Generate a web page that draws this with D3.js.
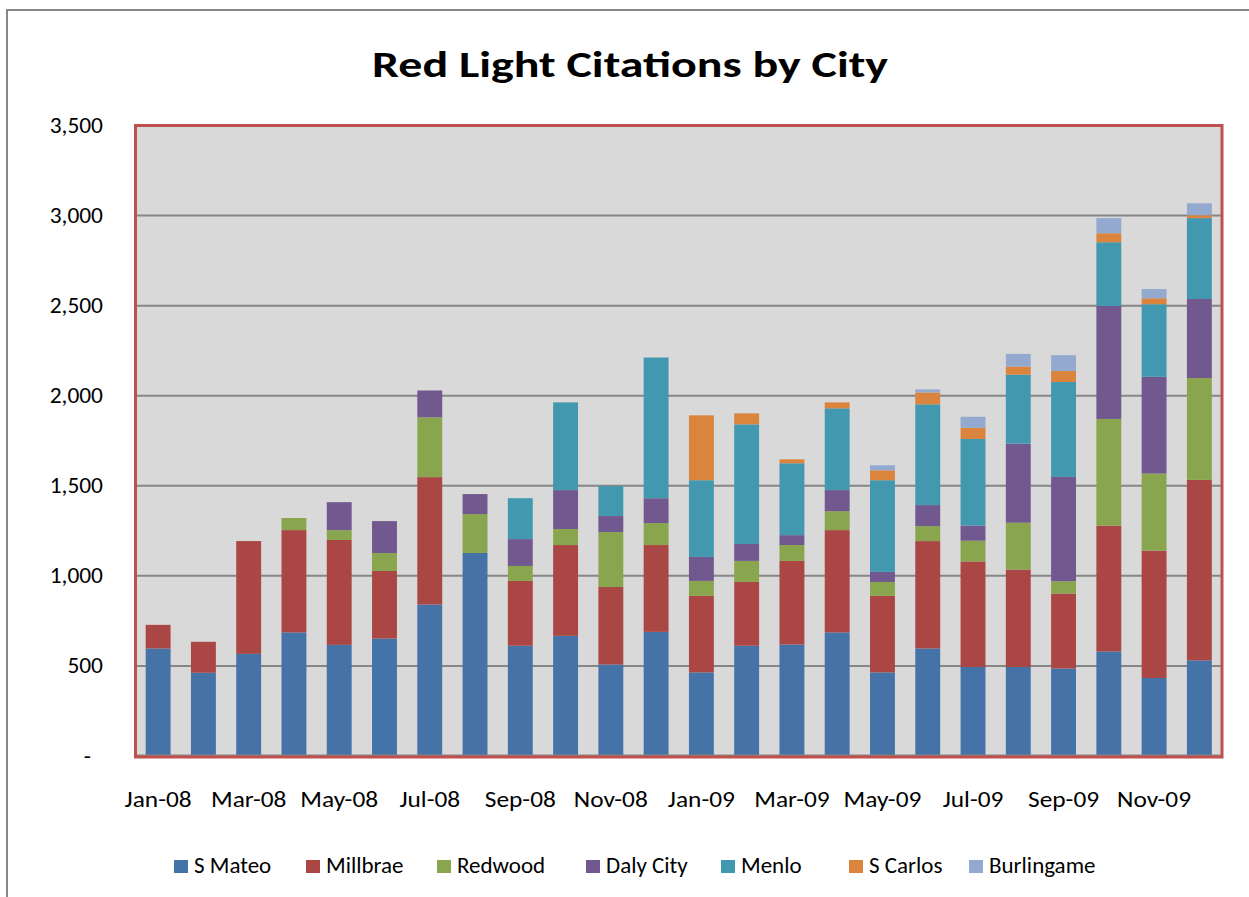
<!DOCTYPE html>
<html lang="en">
<head>
<meta charset="UTF-8">
<title>Red Light Citations by City</title>
<script src="https://d3js.org/d3.v7.min.js"></script>
<style>
  body { margin: 0; background: #fff; }
  svg text { font-family: Carlito, Calibri, Lato, "Open Sans", sans-serif; }
</style>
</head>
<body>
<svg id="chart" width="1249" height="897"></svg>
<script>
// months shown on the x axis
const months = ["Jan-08","Feb-08","Mar-08","Apr-08","May-08","Jun-08","Jul-08","Aug-08","Sep-08","Oct-08","Nov-08","Dec-08",
                "Jan-09","Feb-09","Mar-09","Apr-09","May-09","Jun-09","Jul-09","Aug-09","Sep-09","Oct-09","Nov-09","Dec-09"];

const cities = ["S Mateo","Millbrae","Redwood","Daly City","Menlo","S Carlos","Burlingame"];
const colors = ["#4572a7","#aa4643","#89a54e","#71588f","#4198af","#db843d","#93a9cf"];

// citations per month
const sMateo     = [597,462,567,686,617,652,841,1127,612,667,508,689,464,612,619,686,464,597,494,494,486,580,433,531];
const millbrae   = [131,172,626,568,582,375,707,0,360,504,430,482,425,354,464,568,425,596,586,541,416,699,707,1002];
const redwood    = [0,0,0,67,55,100,332,216,83,89,305,122,83,117,88,105,77,83,115,260,68,592,428,565];
const dalyCity   = [0,0,0,0,155,177,149,111,149,216,89,138,133,94,55,117,56,117,84,439,579,627,537,439];
const menlo      = [0,0,0,0,0,0,0,0,227,487,166,781,426,664,399,454,509,559,481,383,527,354,403,449];
const sCarlos    = [0,0,0,0,0,0,0,0,0,0,0,0,360,61,22,33,55,66,62,45,61,50,33,16];
const burlingame = [0,0,0,0,0,0,0,0,0,0,0,0,0,0,0,0,28,17,61,70,88,84,51,66];

const yTicks = [0,500,1000,1500,2000,2500,3000,3500];

const seriesValues = [sMateo, millbrae, redwood, dalyCity, menlo, sCarlos, burlingame];
const rows = months.map((m, i) => {
    const r = { month: m };
    cities.forEach((c, j) => r[c] = seriesValues[j][i]);
    return r;
});

const svg = d3.select("#chart");

// outer chart frame (cut off at the right and bottom like the source image)
svg.append("rect")
    .attr("x", 7).attr("y", 10)
    .attr("width", 1300).attr("height", 1000)
    .attr("fill", "#fff")
    .attr("stroke", "#868686")
    .attr("stroke-width", 2);

const plot = { left: 135.5, top: 125.5, right: 1222, bottom: 756 };

const x = d3.scaleBand()
    .domain(months)
    .range([plot.left, plot.right])
    .paddingInner(0.45)
    .paddingOuter(0.225);

const y = d3.scaleLinear()
    .domain([0, 3500])
    .range([plot.bottom, plot.top]);

// plot background
svg.append("rect")
    .attr("x", plot.left).attr("y", plot.top)
    .attr("width", plot.right - plot.left)
    .attr("height", plot.bottom - plot.top)
    .attr("fill", "#d9d9d9");

// gridlines
svg.append("g")
    .selectAll("line")
    .data(yTicks.filter(d => d > 0 && d < 3500))
    .join("line")
    .attr("x1", plot.left).attr("x2", plot.right)
    .attr("y1", d => y(d)).attr("y2", d => y(d))
    .attr("stroke", "#868686")
    .attr("stroke-width", 2);

// stacked bars
const stack = d3.stack().keys(cities);
const layers = stack(rows);

svg.append("g")
    .selectAll("g")
    .data(layers)
    .join("g")
    .attr("fill", (d, i) => colors[i])
    .selectAll("rect")
    .data(d => d)
    .join("rect")
    .attr("x", d => x(d.data.month))
    .attr("width", x.bandwidth())
    .attr("y", d => y(d[1]))
    .attr("height", d => y(d[0]) - y(d[1]));

// category axis line
svg.append("line")
    .attr("x1", plot.left).attr("x2", plot.right)
    .attr("y1", plot.bottom - 0.5).attr("y2", plot.bottom - 0.5)
    .attr("stroke", "#868686")
    .attr("stroke-width", 2);

// plot area border
svg.append("rect")
    .attr("x", plot.left).attr("y", plot.top)
    .attr("width", plot.right - plot.left)
    .attr("height", plot.bottom - plot.top + 1)
    .attr("fill", "none")
    .attr("stroke", "#c0504d")
    .attr("stroke-width", 3);

// y axis labels (the source text is a little stretched sideways)
// accounting format: zero shows as a dash, padded in from the right
const fmt = d3.format(",");
svg.append("g")
    .selectAll("text")
    .data(yTicks)
    .join("text")
    .attr("transform", d => `translate(${d === 0 ? 91 : 103}, ${y(d) + 7.5}) scale(1.09, 1)`)
    .attr("text-anchor", "end")
    .attr("font-size", 21.5)
    .attr("fill", "#000")
    .text(d => d === 0 ? "-" : fmt(d));

// x axis labels, every other month
svg.append("g")
    .selectAll("text")
    .data(months.filter((m, i) => i % 2 === 0))
    .join("text")
    .attr("transform", d => `translate(${x(d) + x.bandwidth() / 2}, 807) scale(1.18, 1)`)
    .attr("text-anchor", "middle")
    .attr("font-size", 21.5)
    .attr("fill", "#000")
    .text(d => d);

// title
svg.append("text")
    .attr("x", 630)
    .attr("y", 77)
    .attr("text-anchor", "middle")
    .attr("font-size", 36)
    .attr("font-weight", "bold")
    .attr("textLength", 516)
    .attr("lengthAdjust", "spacingAndGlyphs")
    .attr("fill", "#000")
    .text("Red Light Citations by City");

// legend
const legendX = [174, 306, 437, 586, 721, 849, 969];
const legend = svg.append("g")
    .selectAll("g")
    .data(cities)
    .join("g")
    .attr("transform", (d, i) => `translate(${legendX[i]}, 873)`);

legend.append("rect")
    .attr("x", 0).attr("y", -13)
    .attr("width", 14).attr("height", 13)
    .attr("fill", (d, i) => colors[i]);

legend.append("text")
    .attr("transform", "translate(20, 0) scale(1.07, 1)")
    .attr("font-size", 21.5)
    .attr("fill", "#000")
    .text(d => d);
</script>
</body>
</html>
